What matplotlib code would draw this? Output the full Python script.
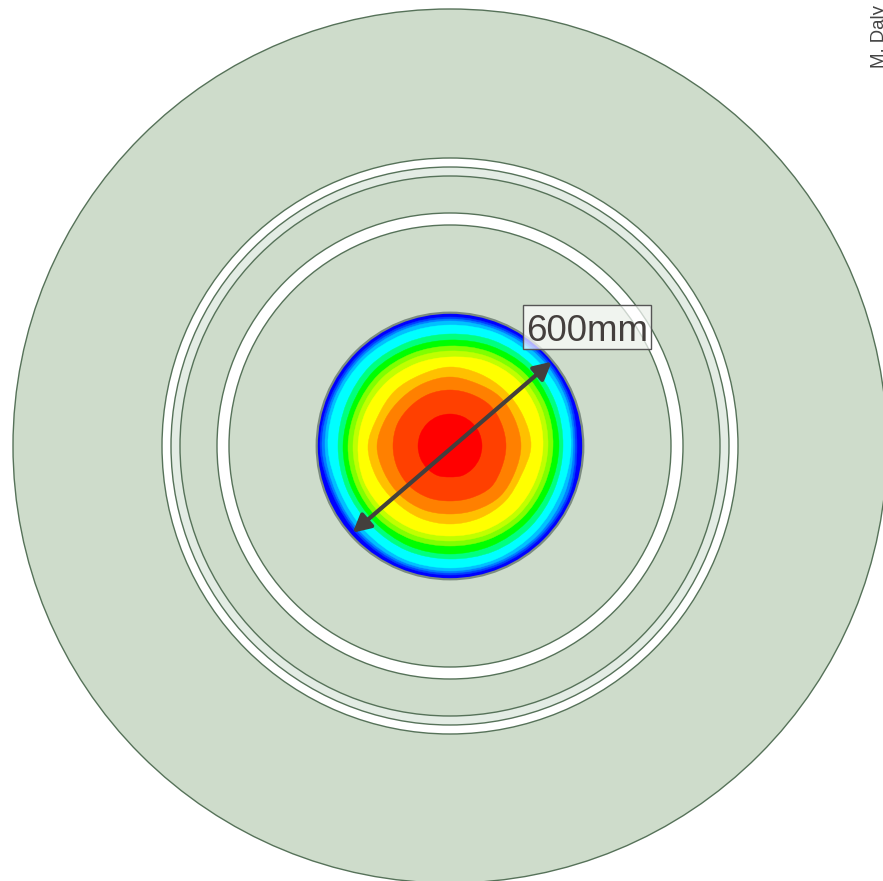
import numpy as np
import matplotlib
matplotlib.use("Agg")
import matplotlib.pyplot as plt
from matplotlib.patches import Circle, PathPatch, Rectangle
from matplotlib.path import Path

# Ring radii (pixels of the reference drawing)
disc_radii = [437, 288, 279, 270, 233, 221]
disc_fills = ["#cedccb", "#ffffff", "#e3ece4", "#cedccb", "#ffffff", "#cedccb"]

# Contour band colours, outermost to innermost
band_colors = ["#0000ff", "#0040ff", "#0080ff", "#00c0ff", "#00ffff", "#00ff80",
               "#00ff00", "#80ff00", "#c0ff00", "#ffff00", "#ffc000", "#ff8000",
               "#ff4000", "#ff0000"]
# Band outlines: radius at 16 directions, E then counter-clockwise
band_radii = [
    [133, 133, 133, 133, 133, 133, 133, 133, 133, 133, 133, 133, 133, 133, 133, 133],
    [127, 129, 130, 129, 129, 129, 129, 129, 130, 127, 128, 129, 129, 129, 129, 129],
    [125, 127, 128, 127, 127, 127, 127, 127, 128, 125, 126, 127, 127, 127, 127, 127],
    [123, 125, 126, 125, 125, 125, 125, 125, 125, 123, 124, 125, 125, 125, 125, 124],
    [121, 122, 122, 122, 121, 121, 122, 122, 122, 119, 120, 122, 122, 122, 121, 120],
    [113, 114, 115, 114, 112, 112, 113, 112, 112, 112, 112, 113, 113, 114, 114, 113],
    [109, 109, 110, 108, 106, 106, 107, 106, 107, 107, 107, 108, 108, 108, 108, 108],
    [103, 104, 104, 102, 100, 100, 101, 101, 102, 102, 102, 101, 100, 101, 102, 102],
    [ 98,  99,  99,  97,  95,  95,  96,  96,  97,  97,  97,  96,  95,  96,  97,  97],
    [ 93,  94,  94,  92,  89,  89,  90,  91,  92,  93,  92,  91,  90,  91,  92,  92],
    [ 81,  79,  78,  78,  79,  77,  78,  78,  82,  80,  78,  78,  78,  78,  78,  77],
    [ 71,  70,  70,  68,  69,  68,  68,  70,  73,  71,  70,  69,  68,  69,  71,  70],
    [ 56,  56,  57,  56,  56,  56,  56,  57,  57,  57,  57,  56,  55,  56,  58,  56],
    [ 32,  32,  32,  32,  32,  32,  32,  32,  32,  32,  32,  32,  31,  32,  32,  32],
]
contour_radius = 133
centre = (450, 446)
arrow_ends = [(352.7, 532.7), (551.7, 361.7)]
label = "600mm"
credit = "M. Daly"

fig = plt.figure(figsize=(8.83, 8.81), dpi=100)
ax = fig.add_axes([0, 0, 1, 1])
ax.set_xlim(0, 883)
ax.set_ylim(881, 0)
ax.axis("off")

edge = "#567259"
for r, f in zip(disc_radii, disc_fills):
    ax.add_patch(Circle(centre, r, facecolor=f, edgecolor=edge, lw=1.0, zorder=1))

directions = np.deg2rad(np.arange(16) * 22.5)


def closed_smooth(xs, ys):
    """Closed curve through the given outline points (Catmull-Rom as Bezier)."""
    pts = np.column_stack([xs, ys])
    n = len(pts)
    verts = [pts[0]]
    codes = [Path.MOVETO]
    for i in range(n):
        p0, p1, p2, p3 = pts[i - 1], pts[i], pts[(i + 1) % n], pts[(i + 2) % n]
        verts += [p1 + (p2 - p0) / 6, p2 - (p3 - p1) / 6, p2]
        codes += [Path.CURVE4] * 3
    return Path(verts, codes)


for radii, c in zip(band_radii, band_colors):
    radii = np.asarray(radii, float)
    xs = centre[0] + radii * np.cos(directions)
    ys = centre[1] - radii * np.sin(directions)
    ax.add_patch(PathPatch(closed_smooth(xs, ys), facecolor=c, edgecolor=c, lw=0.3, zorder=3))

# Grey outline of the contour disc
ax.add_patch(Circle(centre, contour_radius + 0.3, facecolor="none", edgecolor="#7c8c80", lw=1.6, zorder=5))

ax.annotate("", xy=arrow_ends[1], xytext=arrow_ends[0], zorder=6,
            arrowprops=dict(arrowstyle="<|-|>,head_length=1.05,head_width=0.55", color="#443f3d",
                            lw=3, shrinkA=0, shrinkB=0))

ax.add_patch(Rectangle((523, 305), 128, 44, facecolor=(1, 1, 1, 0.7), edgecolor="#555555", lw=1.0, zorder=7))
ax.text(587, 341, label, ha="center", va="baseline", fontsize=26.5, family="Liberation Sans",
        color="#443f3d", zorder=8)

ax.text(883.5, 68, credit, rotation=90, ha="left", va="baseline", rotation_mode="anchor",
        fontsize=13.4, family="Liberation Sans", color="#444444", zorder=8)

fig.savefig("out.png", dpi=100, facecolor="white")
